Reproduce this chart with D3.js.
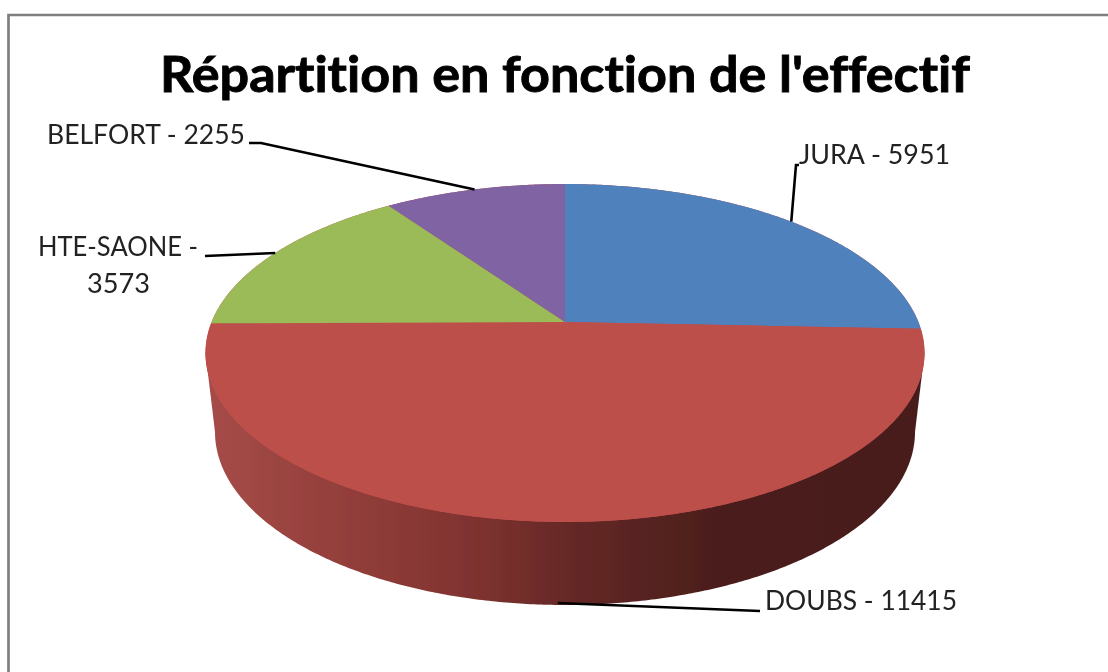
<!DOCTYPE html>
<html><head><meta charset="utf-8">
<script src="https://cdn.jsdelivr.net/npm/d3@7"></script>
<style>html,body{margin:0;padding:0;background:#fff;overflow:hidden}svg{display:block}text{font-variant-ligatures:none}</style>
</head><body><svg id="c" width="1108" height="672"></svg>
<script>
const categories = ["JURA", "DOUBS", "HTE-SAONE", "BELFORT"];
const values = [5951, 11415, 3573, 2255];
const colors = ["#4f81bd", "#bd4f4c", "#9bbb59", "#8064a2"];
const titleText = "Répartition en fonction de l'effectif";

const svg = d3.select("#c");
const defs = svg.append("defs");
defs.append("filter").attr("id","soft").attr("x","-5%").attr("y","-20%").attr("width","110%").attr("height","140%")
  .append("feGaussianBlur").attr("stdDeviation",0.45);
defs.append("filter").attr("id","edge").attr("filterUnits","userSpaceOnUse").attr("x",0).attr("y",0).attr("width",1108).attr("height",672)
  .append("feGaussianBlur").attr("stdDeviation",0.5);
const grad = defs.append("linearGradient").attr("id","wall").attr("gradientUnits","userSpaceOnUse")
  .attr("x1",205).attr("x2",924).attr("y1",0).attr("y2",0);
[[0,"#a64c48"],[0.26,"#8c3a36"],[0.38,"#7e322f"],[0.5,"#672927"],[0.62,"#552220"],[0.72,"#4b1e1d"],[1,"#4a1e1d"]]
  .forEach(([o,c])=>grad.append("stop").attr("offset",o).attr("stop-color",c));

// frame
svg.append("path").attr("d","M1108,15H8.5V672").attr("fill","none").attr("stroke","#7f7f7f").attr("stroke-width",2.7).attr("filter","url(#edge)");

// perspective disc: angle measured clockwise from the top
const cx = 565, cy = 322, A = 353.4, B = 163.3, k = 0.1834;
const project = t => {
  const u = Math.sin(t), v = Math.cos(t), w = 1 + k * v;
  return [cx + A * u / w, cy - B * v / w];
};
const line = d3.line();
const pie = d3.pie().sort(null).value(d => d)(values);
const arcPoints = (a0, a1) => {
  const n = Math.max(2, Math.ceil((a1 - a0) / 0.01));
  return d3.range(n + 1).map(i => project(a0 + (a1 - a0) * i / n));
};

const chart = svg.append("g").attr("filter","url(#edge)");

// side wall: lower rim plus the link to the top rim
const low = {x:565, y:432, rx:350, ry:173};
const ring = d3.range(0, 2*Math.PI + 0.01, 0.01).map(t => [low.x + low.rx*Math.cos(t), low.y + low.ry*Math.sin(t)]);
chart.append("path").attr("d", line(ring)+"Z").attr("fill","url(#wall)");
chart.append("path").attr("d", line([[205.5,353],[low.x-low.rx,low.y],[low.x+low.rx,low.y],[924.5,353]])+"Z").attr("fill","url(#wall)");

// top slices: largest slice colour first under the whole disc, so no seam shows
chart.append("path").attr("d", line(arcPoints(0, 2*Math.PI))+"Z").attr("fill", colors[1]);
chart.selectAll("path.slice").data(pie).join("path").attr("class","slice")
  .attr("d", d => line([[cx,cy], ...arcPoints(d.startAngle, d.endAngle)])+"Z")
  .attr("fill", (d,i) => colors[i]);

// leader lines, anchored on each slice's middle angle
const mid = d => (d.startAngle + d.endAngle) / 2;
const anchor = i => {
  const p = project(mid(pie[i]));
  return i === 1 ? [p[0], p[1] + 81] : p;
};
const leaderEnds = [
  [[796,165],[799,165]],
  [[760,611]],
  [[205,256]],
  [[261,143],[249,143]]
];
svg.append("g").attr("filter","url(#edge)").selectAll("path").data(leaderEnds).join("path")
  .attr("d",(d,i)=>line([anchor(i),...d])).attr("fill","none").attr("stroke","#000").attr("stroke-width",2.6);

// labels
const labelLines = categories.map((c,i)=> c==="HTE-SAONE" ? [c+" -", String(values[i])] : [c+" - "+values[i]]);
const labelBoxes = [
  [{x:799,y:164,w:151}],
  [{x:765,y:610,w:192}],
  [{x:38,y:256,w:160},{x:87,y:293,w:63}],
  [{x:47,y:143.5,w:198}]
];
const textG = svg.append("g").attr("filter","url(#soft)");
labelLines.forEach((ls,i)=>ls.forEach((s,j)=>{
  const b = labelBoxes[i][j];
  textG.append("text").attr("x",b.x).attr("y",b.y).text(s)
    .attr("font-family","Lato").attr("font-size",27).attr("fill","#222")
    .attr("textLength",b.w).attr("lengthAdjust","spacingAndGlyphs");
}));
textG.append("text").attr("x",160).attr("y",92).text(titleText)
  .attr("font-family","Lato").attr("font-weight",700).attr("font-size",50).attr("fill","#000")
  .attr("stroke","#000").attr("stroke-width",0.9)
  .attr("textLength",810).attr("lengthAdjust","spacingAndGlyphs");
</script></body></html>
